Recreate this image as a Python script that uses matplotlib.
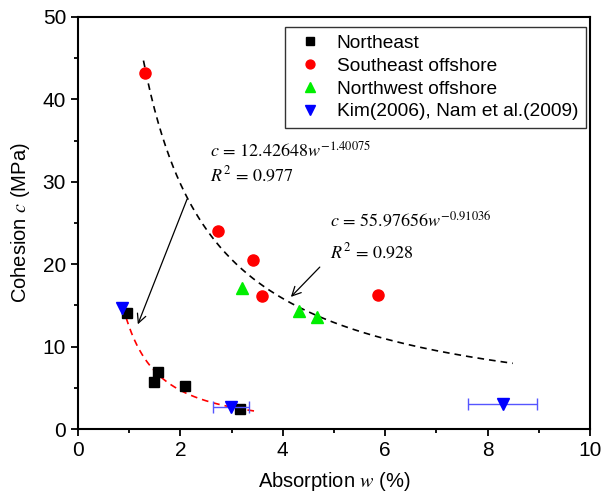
import numpy as np
import matplotlib
matplotlib.use("Agg")
import matplotlib.pyplot as plt
from matplotlib.ticker import MultipleLocator

plt.rcParams['font.family'] = ['Liberation Sans', 'DejaVu Sans']
plt.rcParams['mathtext.fontset'] = 'stix'

ne_w = [0.95, 1.57, 1.48, 2.09, 3.16]
ne_c = [14.1, 6.9, 5.7, 5.25, 2.4]
se_w = [1.31, 2.73, 3.42, 3.60, 5.85]
se_c = [43.2, 24.0, 20.5, 16.1, 16.3]
nw_w = [3.20, 4.32, 4.66]
nw_c = [17.1, 14.3, 13.55]
kim_w = [0.87, 2.99, 8.29]
kim_c = [14.7, 2.67, 3.1]
kim_err = [0.0, 0.35, 0.68]

fit1_a, fit1_b, fit1_range = 12.42648, -1.40075, (0.88, 3.44)
fit2_a, fit2_b, fit2_range = 55.97656, -0.91036, (1.28, 8.49)

fig = plt.figure(figsize=(6.04, 4.99), dpi=100)
ax = fig.add_axes([0.129, 0.140, 0.848, 0.826])

w1 = np.linspace(*fit1_range, 200)
ax.plot(w1, fit1_a * w1 ** fit1_b, '--', color='red', lw=1.2, dashes=(4, 3), zorder=2)
w2 = np.linspace(*fit2_range, 200)
ax.plot(w2, fit2_a * w2 ** fit2_b, '--', color='black', lw=1.2, dashes=(4, 3), zorder=2)

ax.plot(ne_w, ne_c, 's', color='black', ms=7, ls='none', label='Northeast', zorder=3)
ax.plot(se_w, se_c, 'o', color='red', ms=8, ls='none', label='Southeast offshore', zorder=3)
ax.plot(nw_w, nw_c, '^', color='#00ee00', ms=9, ls='none', label='Northwest offshore', zorder=3)
ax.errorbar(kim_w, kim_c, xerr=kim_err, fmt='none', ecolor='#5555ff',
            elinewidth=1, capsize=4, capthick=1, zorder=3)
ax.plot(kim_w, kim_c, 'v', color='blue', ms=9, ls='none',
        label='Kim(2006), Nam et al.(2009)', zorder=4)

ax.set_xlim(0, 10)
ax.set_ylim(0, 50)
ax.xaxis.set_major_locator(MultipleLocator(2))
ax.xaxis.set_minor_locator(MultipleLocator(1))
ax.yaxis.set_major_locator(MultipleLocator(10))
ax.yaxis.set_minor_locator(MultipleLocator(5))
ax.tick_params(which='both', direction='out', width=1.3, labelsize=15, top=False, right=False)
ax.tick_params(which='major', length=5)
ax.tick_params(which='minor', length=3)
for s in ax.spines.values():
    s.set_linewidth(1.5)

ax.set_xlabel(r'Absorption $w$ (%)', fontsize=14.5, labelpad=7)
ax.set_ylabel(r'Cohesion $c$ (MPa)', fontsize=14.5, labelpad=8)

ax.text(2.58, 33.1, r'$c\,=\,12.42648w^{-1.40075}$', fontsize=13)
ax.text(2.58, 30.1, r'$R^2\,=\,0.977$', fontsize=13)
ax.annotate('', xy=(1.15, 12.4), xytext=(2.15, 28.2),
            arrowprops=dict(arrowstyle='->', color='black', lw=0.9, mutation_scale=16))
ax.text(4.92, 24.6, r'$c\,=\,55.97656w^{-0.91036}$', fontsize=13)
ax.text(4.92, 20.7, r'$R^2\,=\,0.928$', fontsize=13)
ax.annotate('', xy=(4.12, 15.8), xytext=(4.76, 19.9),
            arrowprops=dict(arrowstyle='->', color='black', lw=0.9, mutation_scale=16))

leg = ax.legend(loc='upper right', bbox_to_anchor=(0.992, 0.976), borderaxespad=0,
                fontsize=13.8, frameon=True, fancybox=False, edgecolor='black',
                borderpad=0.4, labelspacing=0.28, handletextpad=0.52,
                handlelength=1.8, markerscale=0.8)
leg.get_frame().set_linewidth(1.0)

fig.savefig('out.png', dpi=100)
